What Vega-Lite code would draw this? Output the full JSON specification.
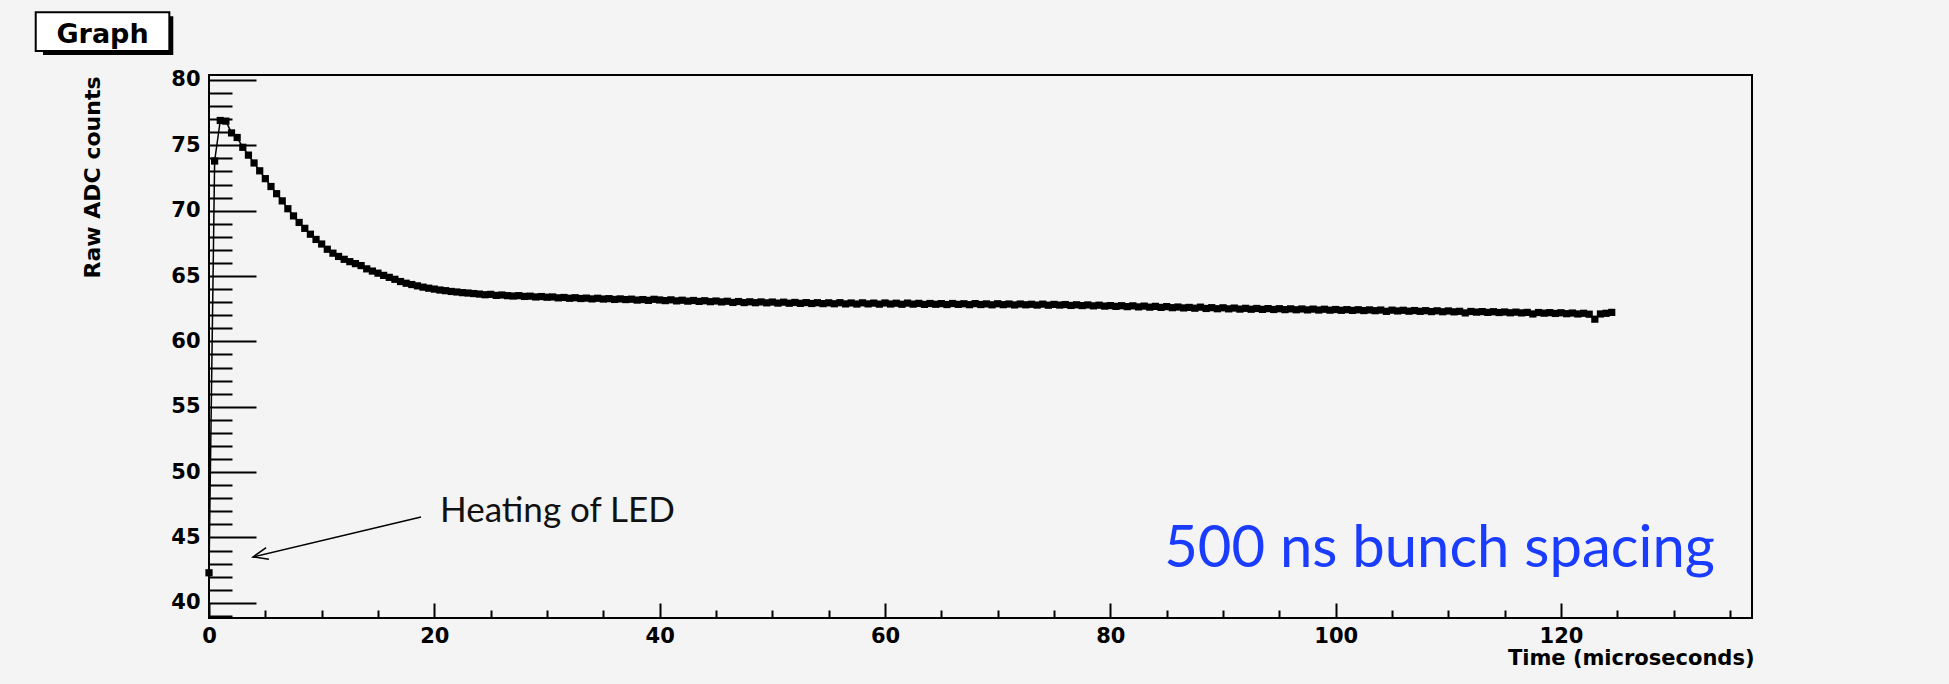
{
  "$schema": "https://vega.github.io/schema/vega-lite/v6.json",
  "width": 1543,
  "height": 543,
  "autosize": {"type": "none"},
  "padding": {"left": 209, "top": 75, "right": 197, "bottom": 66},
  "background": "#f4f4f4",
  "config": {
    "view": {"stroke": "black", "strokeWidth": 2, "fill": "#f4f4f4"},
    "axis": {"grid": false, "domain": false}
  },
  "datasets": {
    "adc": [
      {"t": 0, "adc": 42.3}, {"t": 0.5, "adc": 73.8}, {"t": 1, "adc": 76.9}, {"t": 1.5, "adc": 76.85},
      {"t": 2, "adc": 75.95}, {"t": 2.5, "adc": 75.6}, {"t": 3, "adc": 74.85}, {"t": 3.5, "adc": 74.25},
      {"t": 4, "adc": 73.65}, {"t": 4.5, "adc": 73.05}, {"t": 5, "adc": 72.45}, {"t": 5.5, "adc": 71.85},
      {"t": 6, "adc": 71.3}, {"t": 6.5, "adc": 70.75}, {"t": 7, "adc": 70.15}, {"t": 7.5, "adc": 69.6},
      {"t": 8, "adc": 69.1}, {"t": 8.5, "adc": 68.65}, {"t": 9, "adc": 68.2}, {"t": 9.5, "adc": 67.8},
      {"t": 10, "adc": 67.45}, {"t": 10.5, "adc": 67.05}, {"t": 11, "adc": 66.75}, {"t": 11.5, "adc": 66.5},
      {"t": 12, "adc": 66.28}, {"t": 12.5, "adc": 66.1}, {"t": 13, "adc": 65.95}, {"t": 13.5, "adc": 65.8},
      {"t": 14, "adc": 65.55}, {"t": 14.5, "adc": 65.38}, {"t": 15, "adc": 65.22}, {"t": 15.5, "adc": 65.05},
      {"t": 16, "adc": 64.9}, {"t": 16.5, "adc": 64.75}, {"t": 17, "adc": 64.58}, {"t": 17.5, "adc": 64.45},
      {"t": 18, "adc": 64.35}, {"t": 18.5, "adc": 64.25}, {"t": 19, "adc": 64.15}, {"t": 19.5, "adc": 64.07},
      {"t": 20, "adc": 64.0}, {"t": 20.5, "adc": 63.93}, {"t": 21, "adc": 63.88}, {"t": 21.5, "adc": 63.82},
      {"t": 22, "adc": 63.78}, {"t": 22.5, "adc": 63.73}, {"t": 23, "adc": 63.7}, {"t": 23.5, "adc": 63.66},
      {"t": 24, "adc": 63.62}, {"t": 24.5, "adc": 63.57}, {"t": 25, "adc": 63.6}, {"t": 25.5, "adc": 63.52},
      {"t": 26, "adc": 63.55}, {"t": 26.5, "adc": 63.5}, {"t": 27, "adc": 63.47}, {"t": 27.5, "adc": 63.5},
      {"t": 28, "adc": 63.44}, {"t": 28.5, "adc": 63.46}, {"t": 29, "adc": 63.4}, {"t": 29.5, "adc": 63.43},
      {"t": 30, "adc": 63.38}, {"t": 30.5, "adc": 63.4}, {"t": 31, "adc": 63.33}, {"t": 31.5, "adc": 63.36},
      {"t": 32, "adc": 63.3}, {"t": 32.5, "adc": 63.34}, {"t": 33, "adc": 63.28}, {"t": 33.5, "adc": 63.31},
      {"t": 34, "adc": 63.25}, {"t": 34.5, "adc": 63.3}, {"t": 35, "adc": 63.24}, {"t": 35.5, "adc": 63.27},
      {"t": 36, "adc": 63.21}, {"t": 36.5, "adc": 63.25}, {"t": 37, "adc": 63.2}, {"t": 37.5, "adc": 63.23},
      {"t": 38, "adc": 63.16}, {"t": 38.5, "adc": 63.2}, {"t": 39, "adc": 63.14}, {"t": 39.5, "adc": 63.22},
      {"t": 40, "adc": 63.17}, {"t": 40.5, "adc": 63.12}, {"t": 41, "adc": 63.18}, {"t": 41.5, "adc": 63.1},
      {"t": 42, "adc": 63.15}, {"t": 42.5, "adc": 63.08}, {"t": 43, "adc": 63.13}, {"t": 43.5, "adc": 63.06},
      {"t": 44, "adc": 63.11}, {"t": 44.5, "adc": 63.04}, {"t": 45, "adc": 63.09}, {"t": 45.5, "adc": 63.02},
      {"t": 46, "adc": 63.07}, {"t": 46.5, "adc": 62.98}, {"t": 47, "adc": 63.05}, {"t": 47.5, "adc": 62.97},
      {"t": 48, "adc": 63.03}, {"t": 48.5, "adc": 62.96}, {"t": 49, "adc": 63.02}, {"t": 49.5, "adc": 62.95},
      {"t": 50, "adc": 63.01}, {"t": 50.5, "adc": 62.93}, {"t": 51, "adc": 63.0}, {"t": 51.5, "adc": 62.92},
      {"t": 52, "adc": 62.98}, {"t": 52.5, "adc": 62.91}, {"t": 53, "adc": 62.97}, {"t": 53.5, "adc": 62.9},
      {"t": 54, "adc": 62.96}, {"t": 54.5, "adc": 62.89}, {"t": 55, "adc": 62.95}, {"t": 55.5, "adc": 62.88},
      {"t": 56, "adc": 62.96}, {"t": 56.5, "adc": 62.87}, {"t": 57, "adc": 62.94}, {"t": 57.5, "adc": 62.86},
      {"t": 58, "adc": 62.95}, {"t": 58.5, "adc": 62.87}, {"t": 59, "adc": 62.93}, {"t": 59.5, "adc": 62.85},
      {"t": 60, "adc": 62.94}, {"t": 60.5, "adc": 62.86}, {"t": 61, "adc": 62.92}, {"t": 61.5, "adc": 62.84},
      {"t": 62, "adc": 62.93}, {"t": 62.5, "adc": 62.85}, {"t": 63, "adc": 62.91}, {"t": 63.5, "adc": 62.83},
      {"t": 64, "adc": 62.9}, {"t": 64.5, "adc": 62.84}, {"t": 65, "adc": 62.89}, {"t": 65.5, "adc": 62.82},
      {"t": 66, "adc": 62.9}, {"t": 66.5, "adc": 62.83}, {"t": 67, "adc": 62.88}, {"t": 67.5, "adc": 62.81},
      {"t": 68, "adc": 62.89}, {"t": 68.5, "adc": 62.82}, {"t": 69, "adc": 62.87}, {"t": 69.5, "adc": 62.8},
      {"t": 70, "adc": 62.88}, {"t": 70.5, "adc": 62.81}, {"t": 71, "adc": 62.86}, {"t": 71.5, "adc": 62.79},
      {"t": 72, "adc": 62.86}, {"t": 72.5, "adc": 62.8}, {"t": 73, "adc": 62.84}, {"t": 73.5, "adc": 62.78},
      {"t": 74, "adc": 62.85}, {"t": 74.5, "adc": 62.77}, {"t": 75, "adc": 62.83}, {"t": 75.5, "adc": 62.78},
      {"t": 76, "adc": 62.82}, {"t": 76.5, "adc": 62.75}, {"t": 77, "adc": 62.8}, {"t": 77.5, "adc": 62.74},
      {"t": 78, "adc": 62.79}, {"t": 78.5, "adc": 62.72}, {"t": 79, "adc": 62.77}, {"t": 79.5, "adc": 62.7},
      {"t": 80, "adc": 62.74}, {"t": 80.5, "adc": 62.68}, {"t": 81, "adc": 62.73}, {"t": 81.5, "adc": 62.66},
      {"t": 82, "adc": 62.72}, {"t": 82.5, "adc": 62.64}, {"t": 83, "adc": 62.7}, {"t": 83.5, "adc": 62.62},
      {"t": 84, "adc": 62.68}, {"t": 84.5, "adc": 62.6}, {"t": 85, "adc": 62.66}, {"t": 85.5, "adc": 62.58},
      {"t": 86, "adc": 62.63}, {"t": 86.5, "adc": 62.56}, {"t": 87, "adc": 62.6}, {"t": 87.5, "adc": 62.54},
      {"t": 88, "adc": 62.62}, {"t": 88.5, "adc": 62.52}, {"t": 89, "adc": 62.58}, {"t": 89.5, "adc": 62.5},
      {"t": 90, "adc": 62.57}, {"t": 90.5, "adc": 62.49}, {"t": 91, "adc": 62.55}, {"t": 91.5, "adc": 62.47},
      {"t": 92, "adc": 62.53}, {"t": 92.5, "adc": 62.46}, {"t": 93, "adc": 62.52}, {"t": 93.5, "adc": 62.45},
      {"t": 94, "adc": 62.51}, {"t": 94.5, "adc": 62.44}, {"t": 95, "adc": 62.5}, {"t": 95.5, "adc": 62.43},
      {"t": 96, "adc": 62.49}, {"t": 96.5, "adc": 62.42}, {"t": 97, "adc": 62.48}, {"t": 97.5, "adc": 62.41},
      {"t": 98, "adc": 62.47}, {"t": 98.5, "adc": 62.4}, {"t": 99, "adc": 62.46}, {"t": 99.5, "adc": 62.39},
      {"t": 100, "adc": 62.44}, {"t": 100.5, "adc": 62.38}, {"t": 101, "adc": 62.43}, {"t": 101.5, "adc": 62.37},
      {"t": 102, "adc": 62.42}, {"t": 102.5, "adc": 62.36}, {"t": 103, "adc": 62.41}, {"t": 103.5, "adc": 62.35},
      {"t": 104, "adc": 62.4}, {"t": 104.5, "adc": 62.3}, {"t": 105, "adc": 62.39}, {"t": 105.5, "adc": 62.33},
      {"t": 106, "adc": 62.38}, {"t": 106.5, "adc": 62.31}, {"t": 107, "adc": 62.36}, {"t": 107.5, "adc": 62.3},
      {"t": 108, "adc": 62.35}, {"t": 108.5, "adc": 62.28}, {"t": 109, "adc": 62.34}, {"t": 109.5, "adc": 62.27},
      {"t": 110, "adc": 62.33}, {"t": 110.5, "adc": 62.26}, {"t": 111, "adc": 62.3}, {"t": 111.5, "adc": 62.18},
      {"t": 112, "adc": 62.29}, {"t": 112.5, "adc": 62.24}, {"t": 113, "adc": 62.28}, {"t": 113.5, "adc": 62.22},
      {"t": 114, "adc": 62.27}, {"t": 114.5, "adc": 62.21}, {"t": 115, "adc": 62.25}, {"t": 115.5, "adc": 62.19},
      {"t": 116, "adc": 62.24}, {"t": 116.5, "adc": 62.18}, {"t": 117, "adc": 62.22}, {"t": 117.5, "adc": 62.1},
      {"t": 118, "adc": 62.21}, {"t": 118.5, "adc": 62.16}, {"t": 119, "adc": 62.2}, {"t": 119.5, "adc": 62.14},
      {"t": 120, "adc": 62.19}, {"t": 120.5, "adc": 62.12}, {"t": 121, "adc": 62.17}, {"t": 121.5, "adc": 62.1},
      {"t": 122, "adc": 62.15}, {"t": 122.5, "adc": 62.08}, {"t": 123, "adc": 61.7}, {"t": 123.5, "adc": 62.1},
      {"t": 124, "adc": 62.15}, {"t": 124.5, "adc": 62.22}
    ]
  },
  "data": {"name": "adc"},
  "layer": [
    {
      "mark": {"type": "line", "color": "black", "strokeWidth": 1.5},
      "encoding": {
        "x": {
          "field": "t", "type": "quantitative",
          "scale": {"domain": [0, 136.95], "nice": false, "zero": false},
          "axis": {
            "orient": "bottom", "values": [0, 20, 40, 60, 80, 100, 120],
            "ticks": false, "labelFlush": false, "labelOverlap": false,
            "labelFont": "DejaVu Sans", "labelFontWeight": "bold", "labelFontSize": 21,
            "labelColor": "black", "labelPadding": 7,
            "title": "Time (microseconds)", "titleFont": "DejaVu Sans", "titleFontWeight": "bold",
            "titleFontSize": 21, "titleColor": "black", "titleX": 1545, "titleY": 46,
            "titleAlign": "right", "titleBaseline": "alphabetic"
          }
        },
        "y": {
          "field": "adc", "type": "quantitative",
          "scale": {"domain": [38.84, 80.38], "nice": false, "zero": false},
          "axis": {
            "orient": "left", "values": [40, 45, 50, 55, 60, 65, 70, 75, 80],
            "ticks": false, "labelOverlap": false,
            "labelFont": "DejaVu Sans", "labelFontWeight": "bold", "labelFontSize": 21,
            "labelColor": "black", "labelPadding": 9,
            "title": "Raw ADC counts", "titleFont": "DejaVu Sans", "titleFontWeight": "bold",
            "titleFontSize": 22, "titleColor": "black", "titleX": -110, "titleY": 1,
            "titleAngle": 270, "titleAlign": "right", "titleBaseline": "alphabetic"
          }
        }
      }
    },
    {
      "mark": {"type": "point", "shape": "square", "filled": true, "size": 52, "color": "black", "opacity": 1},
      "encoding": {
        "x": {
          "field": "t", "type": "quantitative",
          "axis": {
            "orient": "bottom",
            "values": [0, 5, 10, 15, 20, 25, 30, 35, 40, 45, 50, 55, 60, 65, 70, 75, 80, 85, 90, 95, 100, 105, 110, 115, 120, 125, 130, 135],
            "labels": false, "ticks": true, "tickColor": "black", "tickWidth": 2,
            "tickSize": {"condition": {"test": "datum.value % 20 === 0", "value": -15}, "value": -8},
            "title": null
          }
        },
        "y": {
          "field": "adc", "type": "quantitative",
          "axis": {
            "orient": "left",
            "values": [39, 40, 41, 42, 43, 44, 45, 46, 47, 48, 49, 50, 51, 52, 53, 54, 55, 56, 57, 58, 59, 60, 61, 62, 63, 64, 65, 66, 67, 68, 69, 70, 71, 72, 73, 74, 75, 76, 77, 78, 79, 80],
            "labels": false, "ticks": true, "tickColor": "black", "tickWidth": 2,
            "tickSize": {"condition": {"test": "datum.value % 5 === 0", "value": -47}, "value": -23},
            "title": null
          }
        }
      }
    },
    {
      "data": {"values": [{}]},
      "mark": {"type": "rule", "color": "black", "strokeWidth": 1.5},
      "encoding": {
        "x": {"datum": 18.82, "type": "quantitative", "axis": null},
        "y": {"datum": 46.57, "type": "quantitative", "axis": null},
        "x2": {"datum": 3.9},
        "y2": {"datum": 43.51}
      }
    },
    {
      "data": {"values": [{}]},
      "mark": {"type": "point", "shape": "M 2 -0.8 L 0 0 L 2 0.8", "filled": false, "size": 225, "stroke": "black", "strokeWidth": 1.5, "opacity": 1, "angle": 346.6},
      "encoding": {
        "x": {"datum": 3.9, "type": "quantitative", "axis": null},
        "y": {"datum": 43.51, "type": "quantitative", "axis": null}
      }
    },
    {
      "data": {"values": [{}]},
      "mark": {"type": "text", "text": "Heating of LED", "font": "Lato", "fontSize": 35, "color": "#111111", "align": "left", "baseline": "alphabetic"},
      "encoding": {
        "x": {"datum": 20.5, "type": "quantitative", "axis": null},
        "y": {"datum": 46.21, "type": "quantitative", "axis": null}
      }
    },
    {
      "data": {"values": [{}]},
      "mark": {"type": "text", "text": "500 ns bunch spacing", "font": "Lato", "fontSize": 58, "color": "#1a3cff", "align": "right", "baseline": "alphabetic"},
      "encoding": {
        "x": {"datum": 133.66, "type": "quantitative", "axis": null},
        "y": {"datum": 42.74, "type": "quantitative", "axis": null}
      }
    },
    {
      "data": {"values": [{}]},
      "mark": {"type": "rect", "color": "black"},
      "encoding": {
        "x": {"datum": -14.73, "type": "quantitative", "axis": null},
        "x2": {"datum": -3.17},
        "y": {"datum": 84.87, "type": "quantitative", "axis": null},
        "y2": {"datum": 81.91}
      }
    },
    {
      "data": {"values": [{}]},
      "mark": {"type": "rect", "fill": "white", "stroke": "black", "strokeWidth": 2},
      "encoding": {
        "x": {"datum": -15.38, "type": "quantitative", "axis": null},
        "x2": {"datum": -3.52},
        "y": {"datum": 85.18, "type": "quantitative", "axis": null},
        "y2": {"datum": 82.22}
      }
    },
    {
      "data": {"values": [{}]},
      "mark": {"type": "text", "text": "Graph", "font": "DejaVu Sans", "fontWeight": "bold", "fontSize": 27, "color": "black", "align": "center", "baseline": "alphabetic"},
      "encoding": {
        "x": {"datum": -9.45, "type": "quantitative", "axis": null},
        "y": {"datum": 82.85, "type": "quantitative", "axis": null}
      }
    }
  ],
  "resolve": {"axis": {"x": "independent", "y": "independent"}}
}
